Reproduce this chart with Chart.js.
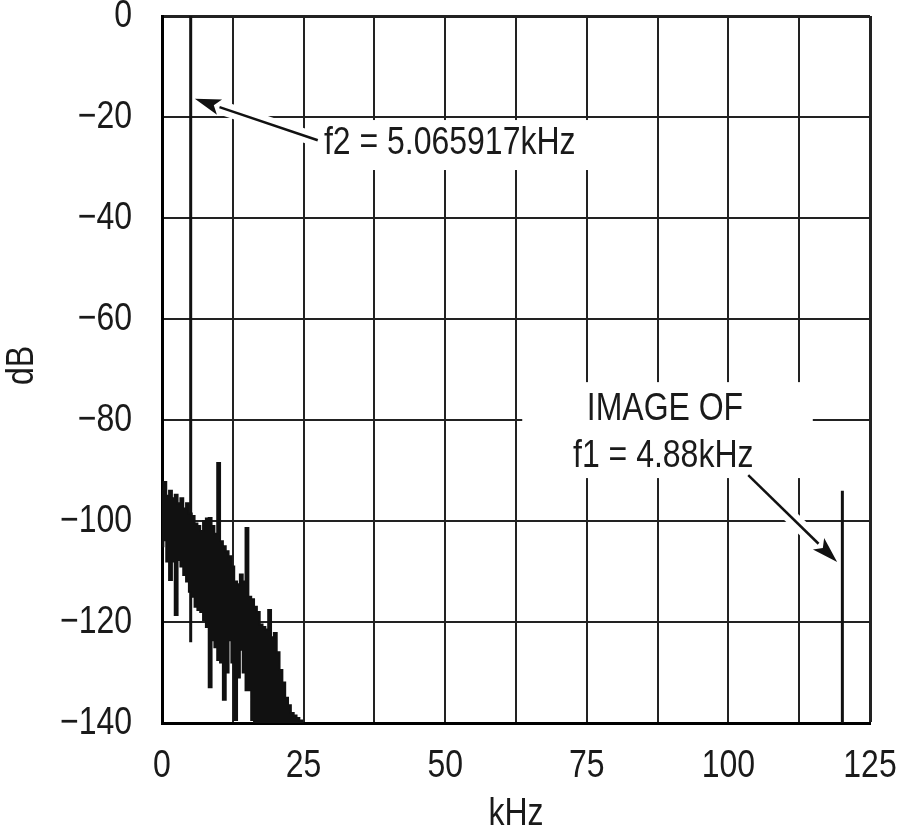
<!DOCTYPE html>
<html>
<head>
<meta charset="utf-8">
<script src="https://cdn.jsdelivr.net/npm/chart.js@4.4.0/dist/chart.umd.min.js"></script>
<style>
  html, body { margin: 0; padding: 0; background: #fff; }
  #wrap { width: 900px; height: 830px; }
</style>
</head>
<body>
<div id="wrap"><canvas id="chartSpectrum"></canvas></div>
<script>
// FFT readings, kHz / dB
var noiseKHz = [0, 0.5, 1, 1.5, 2, 2.5, 3, 3.5, 4, 4.5, 5, 5.5, 6, 6.5, 7, 7.5, 8, 8.5, 9, 9.5,
  10, 10.5, 11, 11.5, 12, 12.5, 13, 13.5, 14, 14.5, 15, 15.5, 16, 16.5, 17, 17.5, 18, 18.5, 19, 19.5,
  20, 20.5, 21, 21.5, 22, 22.5, 23, 23.5, 24, 24.5, 25];
var noiseTop = [-94, -92.3, -95, -94, -95.5, -94.8, -96.5, -95.5, -97.5, -96.5, -98.5, -99, -100.5, -101, -102, -100, -99.5, -99.4, -101, -102.5,
  -88.5, -104, -105, -106, -107, -109, -112, -112.5, -110.6, -112, -101.4, -115, -115.5, -117, -118, -120.5, -121, -121.5, -117.6, -123,
  -122.2, -126, -129.5, -132, -135, -136.5, -138, -138.5, -139, -139.5, -140];
var noiseBottom = [-105, -103.8, -108, -111.7, -108, -118.6, -107.7, -109, -110.7, -112, -114, -115, -117, -117.6, -118, -119.6, -121, -132.9, -123.6, -125,
  -127.5, -128, -135.4, -130, -123.6, -128, -139.4, -131, -125.5, -130, -133.5, -133.5, -139.4, -145, -145, -145, -145, -145, -145, -145,
  -145, -145, -145, -145, -145, -145, -145, -145, -145, -145, -145];

var f2KHz = 5.065917;
var f2Span = [0, -124];
var imageKHz = 120.12;
var imageSpan = [-94, -140];

var xLabelled = [0, 25, 50, 75, 100, 125];
var xTitle = 'kHz';
var yTitle = 'dB';

// annotation boxes, texts and arrows in data units
var noteBoxes = [
  { x0: 26.5, x1: 75.6, y0: -20.6, y1: -30.5 },
  { x0: 63.6, x1: 114.9, y0: -72.5, y1: -91.5 }
];
var noteTexts = [
  { text: 'f2 = 5.065917kHz', x: 50.8, y: -25.1 },
  { text: 'IMAGE OF', x: 88.8, y: -77.8 },
  { text: 'f1 = 4.88kHz', x: 88.5, y: -87.1 }
];
var noteArrows = [
  { from: [27.5, -24.6], to: [5.8, -16.4] },
  { from: [103.5, -90.9], to: [119.2, -108.1] }
];

var FONT = "39px 'Liberation Sans', Arial, sans-serif";
var NARROW = 0.82;   // squeeze to look like the condensed Helvetica of the original
var INK = '#1a1a1a';

function pts(xs, ys) {
  return xs.map(function (x, i) { return { x: x, y: ys[i] }; });
}

function yLabel(v) {
  return v < 0 ? '\u2212' + Math.abs(v) : String(v);
}

// narrow text: draw at (x, y) with given alignment, optional rotation
function narrowText(ctx, text, x, y, align, rot) {
  ctx.save();
  ctx.translate(x, y);
  if (rot) ctx.rotate(rot);
  ctx.scale(NARROW, 1);
  ctx.font = FONT;
  ctx.fillStyle = INK;
  ctx.textAlign = align;
  ctx.textBaseline = 'middle';
  ctx.fillText(text, 0, 0);
  ctx.restore();
}

function arrowPath(ctx, x1, y1, x2, y2, head) {
  var dx = x2 - x1, dy = y2 - y1;
  var len = Math.sqrt(dx * dx + dy * dy);
  var ux = dx / len, uy = dy / len;
  var bx = x2 - ux * 26, by = y2 - uy * 26;
  ctx.beginPath();
  ctx.moveTo(x1, y1);
  ctx.lineTo(head ? bx : x2, head ? by : y2);
  ctx.stroke();
  if (head) {
    ctx.beginPath();
    ctx.moveTo(x2, y2);
    ctx.lineTo(bx - uy * 8, by + ux * 8);
    ctx.lineTo(x2 - ux * 20, y2 - uy * 20);
    ctx.lineTo(bx + uy * 8, by - ux * 8);
    ctx.closePath();
    ctx.fill();
  }
}

var notesPlugin = {
  id: 'notes',
  beforeDatasetsDraw: function (chart) {
    var ctx = chart.ctx, xs = chart.scales.x, ys = chart.scales.y;
    ctx.save();
    ctx.fillStyle = '#fff';
    noteBoxes.forEach(function (b) {
      var l = xs.getPixelForValue(b.x0), r = xs.getPixelForValue(b.x1);
      var t = ys.getPixelForValue(b.y0), btm = ys.getPixelForValue(b.y1);
      ctx.fillRect(l, t, r - l, btm - t);
    });
    ctx.strokeStyle = '#fff';
    ctx.lineWidth = 14;
    noteArrows.forEach(function (a) {
      arrowPath(ctx, xs.getPixelForValue(a.from[0]), ys.getPixelForValue(a.from[1]),
        xs.getPixelForValue(a.to[0]), ys.getPixelForValue(a.to[1]), false);
    });
    ctx.restore();
  },
  afterDatasetsDraw: function (chart) {
    var ctx = chart.ctx, xs = chart.scales.x, ys = chart.scales.y;
    noteTexts.forEach(function (n) {
      narrowText(ctx, n.text, xs.getPixelForValue(n.x), ys.getPixelForValue(n.y), 'center');
    });
    ctx.save();
    ctx.strokeStyle = '#111';
    ctx.fillStyle = '#111';
    ctx.lineWidth = 2.5;
    noteArrows.forEach(function (a) {
      arrowPath(ctx, xs.getPixelForValue(a.from[0]), ys.getPixelForValue(a.from[1]),
        xs.getPixelForValue(a.to[0]), ys.getPixelForValue(a.to[1]), true);
    });
    ctx.restore();
  },
  afterDraw: function (chart) {
    // tick labels and axis titles, condensed
    var ctx = chart.ctx, xs = chart.scales.x, ys = chart.scales.y;
    var area = chart.chartArea;
    xs.ticks.forEach(function (t) {
      if (xLabelled.indexOf(t.value) < 0) return;
      narrowText(ctx, String(t.value), xs.getPixelForValue(t.value), area.bottom + 43, 'center');
    });
    ys.ticks.forEach(function (t) {
      narrowText(ctx, yLabel(t.value), area.left - 30, ys.getPixelForValue(t.value), 'right');
    });
    narrowText(ctx, xTitle, (area.left + area.right) / 2, area.bottom + 91, 'center');
    narrowText(ctx, yTitle, 22, (area.top + area.bottom) / 2 - 4, 'center', -Math.PI / 2);
  }
};

var ctx1 = document.getElementById('chartSpectrum').getContext('2d');
new Chart(ctx1, {
  type: 'scatter',
  data: {
    datasets: [
      {
        label: 'noise top',
        data: pts(noiseKHz, noiseTop),
        showLine: true,
        stepped: 'middle',
        borderColor: '#111',
        borderWidth: 2,
        backgroundColor: '#111',
        pointRadius: 0,
        fill: '+1'
      },
      {
        label: 'noise bottom',
        data: pts(noiseKHz, noiseBottom),
        showLine: true,
        stepped: 'middle',
        borderColor: '#111',
        borderWidth: 2,
        pointRadius: 0,
        fill: false
      },
      {
        label: 'f2',
        data: [{ x: f2KHz, y: f2Span[0] }, { x: f2KHz, y: f2Span[1] }],
        showLine: true,
        borderColor: '#111',
        borderWidth: 3,
        pointRadius: 0
      },
      {
        label: 'image of f1',
        data: [{ x: imageKHz, y: imageSpan[0] }, { x: imageKHz, y: imageSpan[1] }],
        showLine: true,
        borderColor: '#111',
        borderWidth: 3,
        pointRadius: 0
      }
    ]
  },
  options: {
    responsive: true,
    maintainAspectRatio: false,
    animation: false,
    layout: { padding: { left: 0, right: 30, top: 16, bottom: 0 } },
    plugins: {
      legend: { display: false },
      tooltip: { enabled: false }
    },
    scales: {
      x: {
        type: 'linear',
        min: 0,
        max: 125,
        afterFit: function (scale) {
          scale.height = 107;
          scale.paddingLeft = 0;
          scale.paddingRight = 0;
        },
        border: { display: true, color: '#000', width: 3 },
        grid: {
          color: '#222',
          drawTicks: false,
          lineWidth: function (c) { return c.tick && c.tick.value === 125 ? 3 : 2; }
        },
        ticks: { stepSize: 12.5, display: false }
      },
      y: {
        type: 'linear',
        min: -140,
        max: 0,
        afterFit: function (scale) {
          scale.width = 162;
          scale.paddingTop = 0;
          scale.paddingBottom = 0;
        },
        border: { display: true, color: '#000', width: 3 },
        grid: {
          color: '#222',
          drawTicks: false,
          lineWidth: function (c) { return c.tick && c.tick.value === 0 ? 3 : 2; }
        },
        ticks: { stepSize: 20, display: false }
      }
    }
  },
  plugins: [notesPlugin]
});
</script>
</body>
</html>
